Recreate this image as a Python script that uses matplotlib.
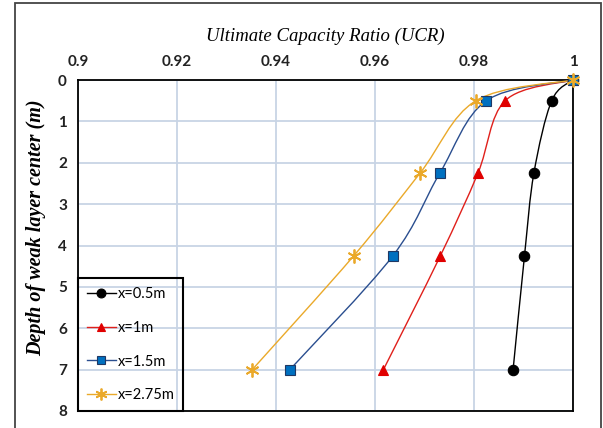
import matplotlib
matplotlib.use('Agg')
import matplotlib.pyplot as plt
from matplotlib.path import Path
from matplotlib.patches import PathPatch, Rectangle
from matplotlib.lines import Line2D

# depth of weak layer centre (m) and UCR for each offset
depth = [0, 0.5, 2.25, 4.25, 7]
ucr_05 = [1.0, 0.9957, 0.9921, 0.9902, 0.9879]
ucr_1 = [1.0, 0.9863, 0.9808, 0.9732, 0.9617]
ucr_15 = [1.0, 0.9825, 0.9731, 0.9636, 0.9428]
ucr_275 = [1.0, 0.9804, 0.9691, 0.9557, 0.9352]
labels = ['x=0.5m', 'x=1m', 'x=1.5m', 'x=2.75m']

x_ticks = [0.9, 0.92, 0.94, 0.96, 0.98, 1.0]
x_tick_labels = ['0.9', '0.92', '0.94', '0.96', '0.98', '1']
y_ticks = [0, 1, 2, 3, 4, 5, 6, 7, 8]


# Excel style smoothed line: catmull-rom turned into cubic bezier segments
def smooth_path(xs, ys):
    pts = list(zip(xs, ys))
    verts = [pts[0]]
    codes = [Path.MOVETO]
    for i in range(len(pts) - 1):
        p0 = pts[i - 1] if i > 0 else pts[i]
        p1 = pts[i]
        p2 = pts[i + 1]
        p3 = pts[i + 2] if i + 2 < len(pts) else pts[i + 1]
        c1 = (p1[0] + (p2[0] - p0[0]) / 6, p1[1] + (p2[1] - p0[1]) / 6)
        c2 = (p2[0] - (p3[0] - p1[0]) / 6, p2[1] - (p3[1] - p1[1]) / 6)
        verts += [c1, c2, p2]
        codes += [Path.CURVE4] * 3
    return Path(verts, codes)


series = [
    (ucr_05, 'black', 'o', 'black', 'black', 7.5),
    (ucr_1, '#e0201b', '^', '#e00000', '#e00000', 7.5),
    (ucr_15, '#2a4e8f', 's', '#0070c0', '#1f3864', 7),
    (ucr_275, '#eaa92a', (6, 2, 0), '#eaa92a', '#eaa92a', 10),
]

fig = plt.figure(figsize=(6.03, 4.28), dpi=100)
ax = fig.add_axes([78 / 603, 17 / 428, 495 / 603, 331 / 428])

handles = []
for (vals, lc, mk, mfc, mec, ms), lab in zip(series, labels):
    mew = 1.3 if mk == (6, 2, 0) else 0.8
    ax.add_patch(PathPatch(smooth_path(vals, depth), fill=False, edgecolor=lc,
                           lw=1.0, zorder=3))
    ax.plot(vals, depth, ls='none', marker=mk, ms=ms, mfc=mfc, mec=mec,
            mew=mew, zorder=4, clip_on=False)
    handles.append(Line2D([], [], color=lc, lw=1.0, marker=mk, ms=ms * 0.85, mfc=mfc,
                          mec=mec, mew=mew))

ax.set_xlim(0.9, 1.0)
ax.set_ylim(8, 0)
ax.set_xticks(x_ticks)
ax.set_xticklabels(x_tick_labels)
ax.set_yticks(y_ticks)
ax.xaxis.tick_top()
ax.xaxis.set_label_position('top')
ax.tick_params(length=0, labelsize=11, pad=8)
for t in ax.get_xticklabels() + ax.get_yticklabels():
    t.set_fontfamily('Lato')
    t.set_fontweight('bold')
    t.set_color('#222222')

ax.grid(True, color='#c8d4e5', lw=1.3, zorder=0)
ax.set_axisbelow(True)
for s in ax.spines.values():
    s.set_color('black')
    s.set_linewidth(1.3)

ax.set_xlabel('Ultimate Capacity Ratio (UCR)', fontsize=13.5, family='Liberation Serif',
              style='italic', labelpad=10)
ax.set_ylabel('Depth of weak layer center (m)', fontsize=14.5, family='Liberation Serif',
              style='italic', fontweight='bold')
ax.yaxis.set_label_coords(-0.064, 0.555)

leg = ax.legend(handles, labels, loc='lower left', bbox_to_anchor=(0, 0), borderaxespad=0,
                fancybox=False, edgecolor='black', handlelength=2.0,
                handletextpad=0.1, labelspacing=1.35, borderpad=0.6,
                prop={'family': 'Lato', 'size': 10.5})
leg.get_frame().set_linewidth(1.5)
leg.get_frame().set_facecolor('none')
leg.get_frame().set_alpha(None)

# outer frame of the chart
fig.patches.append(Rectangle((15 / 603, -0.02), 586 / 603, 1 - 3 / 428 + 0.02,
                             transform=fig.transFigure, fill=False,
                             edgecolor='#444444', lw=1.3))

fig.savefig('out.png', dpi=100)
